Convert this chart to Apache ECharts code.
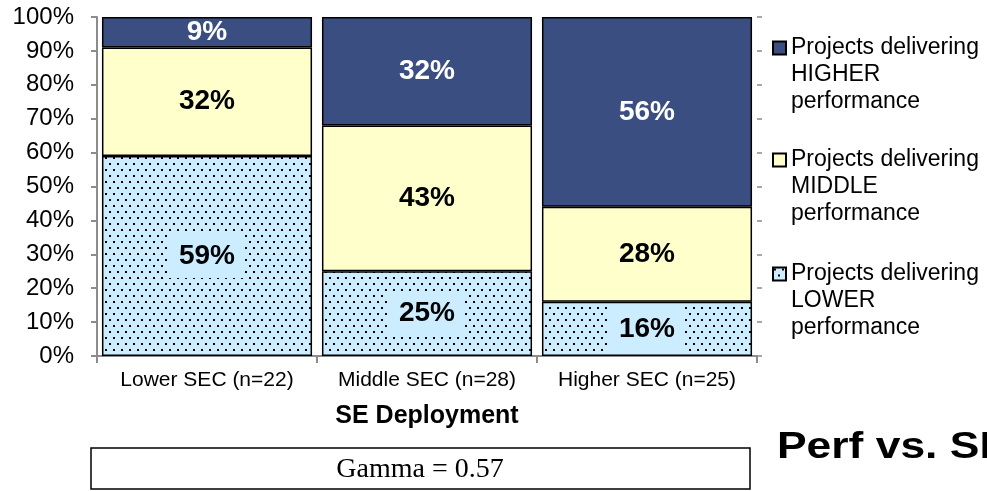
<!DOCTYPE html>
<html>
<head>
<meta charset="utf-8">
<style>
  html, body { margin: 0; padding: 0; background: #fff; }
  #chart { width: 987px; height: 491px; }
</style>
<script src="https://cdn.jsdelivr.net/npm/echarts@6/dist/echarts.min.js"></script>
</head>
<body>
<div id="chart"></div>
<script>
// categories and values (percent of projects)
const categories = ['Lower SEC (n=22)', 'Middle SEC (n=28)', 'Higher SEC (n=25)'];
const lowerPerf = [59, 25, 16];
const middlePerf = [32, 43, 28];
const higherPerf = [9, 32, 56];
const seriesNames = [
    'Projects delivering\nHIGHER\nperformance',
    'Projects delivering\nMIDDLE\nperformance',
    'Projects delivering\nLOWER\nperformance'
];
const yTicks = [0, 10, 20, 30, 40, 50, 60, 70, 80, 90, 100];

// dotted fill used by the "lower" series
function dotPattern() {
    const c = document.createElement('canvas');
    c.width = 8;
    c.height = 12;
    const g = c.getContext('2d');
    g.fillStyle = '#CCECFF';
    g.fillRect(0, 0, 8, 12);
    g.fillStyle = '#000';
    g.fillRect(1, 1, 2, 2);
    g.fillRect(5, 7, 2, 2);
    return c;
}

const chart = echarts.init(document.getElementById('chart'), null, { renderer: 'canvas' });

const labelBase = {
    show: true,
    position: 'inside',
    fontFamily: 'Liberation Sans',
    fontWeight: 'bold',
    fontSize: 28,
    formatter: '{c}%'
};

// one legend per entry; two blank lines in front put the swatch on the first text line
function legendFor(name, iconCenterY) {
    return {
        data: [name],
        orient: 'vertical',
        left: 772,
        top: iconCenterY - 67.5,
        padding: 0,
        icon: 'rect',
        itemWidth: 13,
        itemHeight: 13,
        itemGap: 0,
        selectedMode: false,
        formatter: function (n) { return '\n\n' + n; },
        textStyle: {
            fontFamily: 'Liberation Sans',
            fontSize: 23,
            color: '#000',
            lineHeight: 27
        }
    };
}

const option = {
    animation: false,
    backgroundColor: '#fff',
    grid: { left: 97, right: 230, top: 17, bottom: 135 },
    legend: [
        legendFor(seriesNames[0], 48),
        legendFor(seriesNames[1], 160),
        legendFor(seriesNames[2], 274)
    ],
    xAxis: {
        type: 'category',
        data: categories,
        name: 'SE Deployment',
        nameLocation: 'middle',
        nameGap: 48,
        nameTextStyle: {
            fontFamily: 'Liberation Sans',
            fontWeight: 'bold',
            fontSize: 25,
            color: '#000'
        },
        axisLine: { lineStyle: { color: '#8c8c8c', width: 2 } },
        axisTick: { show: true, length: 7, lineStyle: { color: '#8c8c8c', width: 2 } },
        axisLabel: {
            interval: 0,
            hideOverlap: false,
            margin: 14,
            fontFamily: 'Liberation Sans',
            fontSize: 21,
            color: '#000'
        }
    },
    yAxis: [{
        type: 'value',
        min: 0,
        max: 100,
        interval: 10,
        axisLine: { show: true, lineStyle: { color: '#8c8c8c', width: 2 } },
        axisTick: { show: true, length: 6, lineStyle: { color: '#8c8c8c', width: 2 } },
        splitLine: { show: false },
        axisLabel: {
            margin: 23,
            fontFamily: 'Liberation Sans',
            fontSize: 24,
            color: '#000',
            formatter: function (v) { return yTicks.indexOf(v) >= 0 ? v + '%' : ''; }
        }
    }, {
        type: 'value',
        position: 'right',
        min: 0,
        max: 100,
        interval: 10,
        axisLine: { show: false },
        axisTick: { show: true, length: 5, lineStyle: { color: '#8c8c8c', width: 1.5 } },
        axisLabel: { show: false },
        splitLine: { show: false }
    }],
    series: [{
        name: seriesNames[2],
        type: 'bar',
        stack: 'perf',
        barCategoryGap: '4.5%',
        data: lowerPerf,
        itemStyle: {
            color: { image: dotPattern(), repeat: 'repeat' },
            borderColor: '#000',
            borderWidth: 1.5
        },
        label: Object.assign({}, labelBase, {
            color: '#000',
            backgroundColor: '#CCECFF',
            padding: [8, 10]
        })
    }, {
        name: seriesNames[1],
        type: 'bar',
        stack: 'perf',
        data: middlePerf,
        itemStyle: { color: '#FFFFCC', borderColor: '#000', borderWidth: 1.5 },
        label: Object.assign({}, labelBase, { color: '#000' })
    }, {
        name: seriesNames[0],
        type: 'bar',
        stack: 'perf',
        data: higherPerf,
        itemStyle: { color: '#3B4E81', borderColor: '#000', borderWidth: 1.5 },
        label: Object.assign({}, labelBase, { color: '#fff' })
    }],
    graphic: [{
        type: 'rect',
        shape: { x: 91, y: 448, width: 659, height: 41 },
        style: { fill: '#fff', stroke: '#000', lineWidth: 1.5 }
    }, {
        type: 'text',
        x: 420,
        y: 470,
        style: {
            text: 'Gamma = 0.57',
            fontFamily: 'Liberation Serif',
            fontSize: 28,
            fill: '#000',
            align: 'center',
            verticalAlign: 'middle'
        }
    }, {
        type: 'text',
        x: 777,
        y: 448,
        scaleX: 1.2,
        style: {
            text: 'Perf vs. SE',
            fontFamily: 'Liberation Sans',
            fontWeight: 'bold',
            fontSize: 37,
            fill: '#000',
            align: 'left',
            verticalAlign: 'middle'
        }
    }]
};

chart.setOption(option);
window.addEventListener('resize', () => chart.resize());
</script>
</body>
</html>
